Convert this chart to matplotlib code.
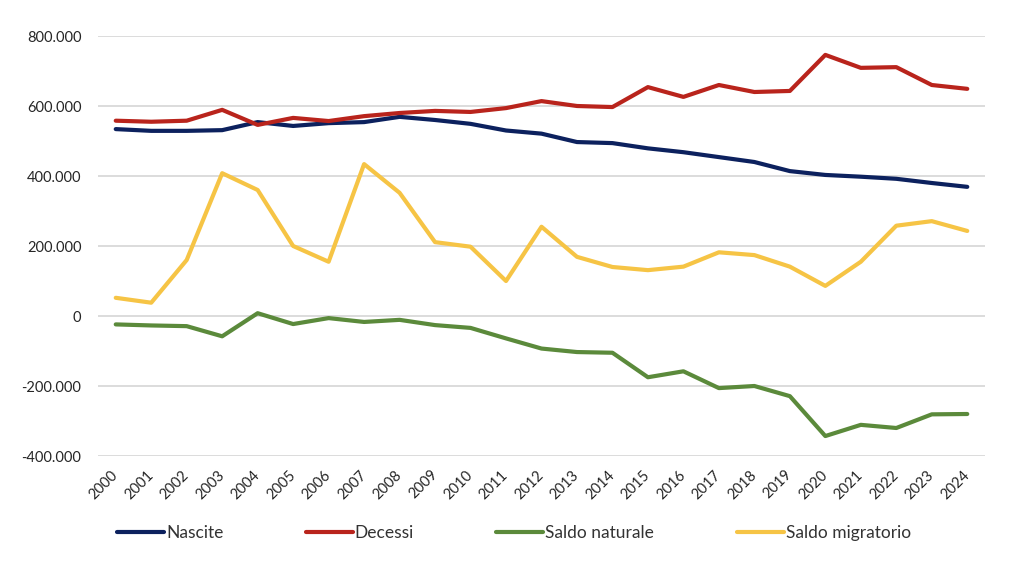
import numpy as np
import matplotlib
matplotlib.use("Agg")
from matplotlib import pyplot as plt
from matplotlib.ticker import FuncFormatter

plt.rcParams['font.family'] = ['Lato', 'DejaVu Sans']

anni = list(range(2000, 2025))

nascite = [534000, 529000, 529000, 531000, 554000, 543000, 551000, 554000, 569000, 560000,
           549000, 530000, 521000, 497000, 494000, 479000, 468000, 454000, 440000, 414000,
           403000, 398000, 392000, 380000, 369000]
decessi = [558000, 555000, 558000, 589000, 546000, 566000, 557000, 571000, 580000, 586000,
           583000, 594000, 614000, 600000, 597000, 654000, 626000, 660000, 640000, 643000,
           746000, 709000, 711000, 660000, 649000]
saldo_naturale = [-24000, -27000, -29000, -58000, 8000, -23000, -6000, -17000, -11000, -26000,
                  -34000, -64000, -93000, -103000, -105000, -175000, -158000, -206000, -200000, -229000,
                  -343000, -311000, -320000, -281000, -280000]
saldo_migratorio = [52000, 38000, 160000, 408000, 360000, 200000, 155000, 434000, 352000, 211000,
                    198000, 100000, 255000, 169000, 140000, 131000, 141000, 182000, 174000, 141000,
                    86000, 155000, 258000, 271000, 243000]

serie = [("Nascite", nascite, "#0c215e"),
         ("Decessi", decessi, "#b9241c"),
         ("Saldo naturale", saldo_naturale, "#5b8a3b"),
         ("Saldo migratorio", saldo_migratorio, "#f6c445")]


def fmt_it(v, pos):
    return "{:,.0f}".format(v).replace(",", ".")


fig = plt.figure(figsize=(10.24, 5.77), dpi=100)
ax = fig.add_axes([98 / 1024, 1 - 456 / 577, (985 - 98) / 1024, (456 - 36) / 577])

x = np.arange(len(anni))
for nome, valori, colore in serie:
    ax.plot(x, valori, color=colore, lw=3.0, label=nome,
            solid_capstyle='round', solid_joinstyle='round')

ax.set_xlim(-0.5, len(anni) - 0.5)
ax.set_ylim(-400000, 800000)
ax.set_yticks(np.arange(-400000, 800001, 200000))
ax.yaxis.set_major_formatter(FuncFormatter(fmt_it))
ax.set_xticks(x)
ax.set_xticklabels([str(a) for a in anni], rotation=45, ha='right', va='center',
                   rotation_mode='anchor')
ax.tick_params(axis='both', length=0, labelsize=10.5, colors='#262626')
ax.tick_params(axis='y', pad=12)
ax.tick_params(axis='x', pad=12)
ax.grid(axis='y', color='#d9d9d9', lw=1.3)
ax.set_axisbelow(True)
for s in ax.spines.values():
    s.set_visible(False)

fig.legend(loc='center left', bbox_to_anchor=(110 / 1024, 1 - 533 / 577), ncol=4,
           frameon=False, fontsize=12.5, handlelength=2.7, handletextpad=0.12,
           columnspacing=4.75, borderaxespad=0, labelcolor='#333333')

fig.savefig("out.png", dpi=100)
